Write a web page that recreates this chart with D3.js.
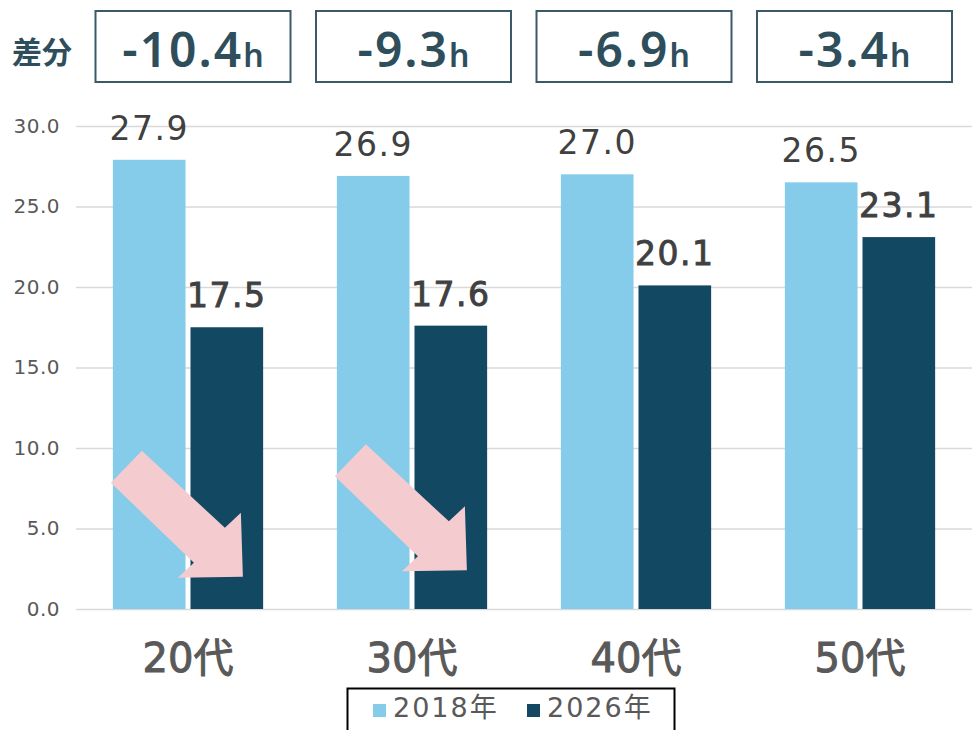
<!DOCTYPE html>
<html>
<head>
<meta charset="utf-8">
<script src="https://cdn.jsdelivr.net/npm/d3@7"></script>
<style>
  html, body { margin: 0; padding: 0; background: #fff; }
  svg { display: block; }
</style>
</head>
<body>
<div id="chart"></div>
<script>
// data
const categories = ['20代', '30代', '40代', '50代'];
const seriesNames = ['2018年', '2026年'];
const values2018 = [27.9, 26.9, 27.0, 26.5];
const values2026 = [17.5, 17.6, 20.1, 23.1];
const diffLabels = ['-10.4', '-9.3', '-6.9', '-3.4'];
const yTicks = [0, 5, 10, 15, 20, 25, 30];
const arrowCategories = ['20代', '30代'];
const arrowTipValues = [2.0, 2.4];

const width = 972;
const height = 730;
const colors = { '2018年': '#85CBEA', '2026年': '#124862' };
const numFont = '"DejaVu Sans", "Noto Sans CJK JP", sans-serif';
const boxFont = '"Noto Sans", "Noto Sans CJK JP", sans-serif';
const slate = '#2E4E5C';

const plot = { left: 76, right: 972, top: 126, bottom: 609 };

const rows = categories.map((c, i) => ({
  category: c,
  '2018年': values2018[i],
  '2026年': values2026[i],
}));

const x = d3.scaleBand()
  .domain(categories)
  .range([plot.left, plot.right])
  .padding(0);

const x1 = d3.scaleBand()
  .domain(seriesNames)
  .range([0, x.bandwidth()])
  .paddingInner(0.064)
  .paddingOuter(0.475);

const y = d3.scaleLinear()
  .domain([0, 30])
  .range([plot.bottom, plot.top]);

const svg = d3.select('#chart')
  .append('svg')
  .attr('width', width)
  .attr('height', height);

// y axis + gridlines
const yG = svg.append('g')
  .attr('transform', `translate(${plot.left},0)`)
  .call(d3.axisLeft(y)
    .tickValues(yTicks)
    .tickFormat(d3.format('.1f'))
    .tickSize(-(plot.right - plot.left))
    .tickPadding(16));

yG.select('.domain').remove();
yG.selectAll('line').attr('stroke', '#D9D9D9').attr('stroke-width', 1.5);
yG.selectAll('text')
  .attr('fill', '#595959')
  .style('font-family', numFont)
  .style('font-size', '20px')
  .style('letter-spacing', '0.5px');

// bars
const groups = svg.selectAll('g.grp')
  .data(rows)
  .enter()
  .append('g')
  .attr('class', 'grp')
  .attr('transform', d => `translate(${x(d.category)},0)`);

groups.selectAll('rect')
  .data(d => seriesNames.map(s => ({ key: s, value: d[s] })))
  .enter()
  .append('rect')
  .attr('x', d => x1(d.key))
  .attr('width', x1.bandwidth())
  .attr('y', d => y(d.value))
  .attr('height', d => y(0) - y(d.value))
  .attr('fill', d => colors[d.key]);

// value labels
groups.selectAll('text.val')
  .data(d => seriesNames.map(s => ({ key: s, value: d[s] })))
  .enter()
  .append('text')
  .attr('class', 'val')
  .attr('x', d => x1(d.key) + x1.bandwidth() / 2)
  .attr('y', d => y(d.value) - 20)
  .attr('text-anchor', 'middle')
  .attr('fill', '#404040')
  .attr('stroke', '#404040')
  .attr('stroke-width', d => (d.key === '2026年' ? 0.9 : 0))
  .style('font-family', numFont)
  .style('font-size', '33px')
  .style('letter-spacing', '1.5px')
  .text(d => d3.format('.1f')(d.value));

// arrows (offsets relative to tip)
const arrowShape = [[-132, -94], [-101, -126], [-18, -49], [-2, -64], [0, 0], [-65, 1], [-49, -14]];
svg.selectAll('polygon.arrow')
  .data(arrowCategories.map((c, i) => ({ category: c, tip: arrowTipValues[i] })))
  .enter()
  .append('polygon')
  .attr('class', 'arrow')
  .attr('fill', '#F4CBCF')
  .attr('points', d => {
    const tx = x(d.category) + x.bandwidth() * 0.745;
    const ty = y(d.tip);
    return arrowShape.map(p => `${tx + p[0]},${ty + p[1]}`).join(' ');
  });

// category labels
svg.selectAll('text.cat')
  .data(categories)
  .enter()
  .append('text')
  .attr('class', 'cat')
  .attr('x', d => x(d) + x.bandwidth() / 2)
  .attr('y', 672)
  .attr('text-anchor', 'middle')
  .attr('fill', '#595959')
  .attr('stroke', '#595959')
  .attr('stroke-width', 1)
  .style('font-family', numFont)
  .style('font-size', '40px')
  .text(d => d);

// difference boxes on top
svg.append('text')
  .attr('x', 12)
  .attr('y', 63)
  .attr('fill', slate)
  .style('font-family', '"Noto Sans CJK JP", sans-serif')
  .style('font-size', '30px')
  .style('font-weight', 'bold')
  .text('差分');

const boxX = d3.scalePoint().domain(categories).range([193, 854.5]);
const boxW = 195;

const boxes = svg.selectAll('g.box')
  .data(categories.map((c, i) => ({ category: c, label: diffLabels[i] })))
  .enter()
  .append('g')
  .attr('class', 'box')
  .attr('transform', d => `translate(${boxX(d.category)},0)`);

boxes.append('rect')
  .attr('x', -boxW / 2)
  .attr('y', 11)
  .attr('width', boxW)
  .attr('height', 71)
  .attr('fill', 'none')
  .attr('stroke', '#3A5A68')
  .attr('stroke-width', 2);

const boxText = boxes.append('text')
  .attr('x', 0)
  .attr('y', 67)
  .attr('text-anchor', 'middle')
  .attr('fill', slate)
  .style('font-family', boxFont)
  .style('font-weight', '600');

boxText.append('tspan')
  .style('font-size', '48px')
  .style('letter-spacing', '2px')
  .text(d => d.label);

boxText.append('tspan')
  .style('font-size', '32px')
  .text('h');

// legend
const legend = svg.append('g');
legend.append('rect')
  .attr('x', 347.5)
  .attr('y', 688.5)
  .attr('width', 327)
  .attr('height', 60)
  .attr('fill', '#fff')
  .attr('stroke', '#000')
  .attr('stroke-width', 2);

const legendX = [373, 527];
seriesNames.forEach((s, i) => {
  legend.append('rect')
    .attr('x', legendX[i])
    .attr('y', 704)
    .attr('width', 13)
    .attr('height', 13)
    .attr('fill', colors[s]);
  legend.append('text')
    .attr('x', legendX[i] + 20)
    .attr('y', 717)
    .attr('fill', '#595959')
    .style('font-family', numFont)
    .style('font-size', '27px')
    .style('letter-spacing', '2px')
    .text(s);
});
</script>
</body>
</html>
